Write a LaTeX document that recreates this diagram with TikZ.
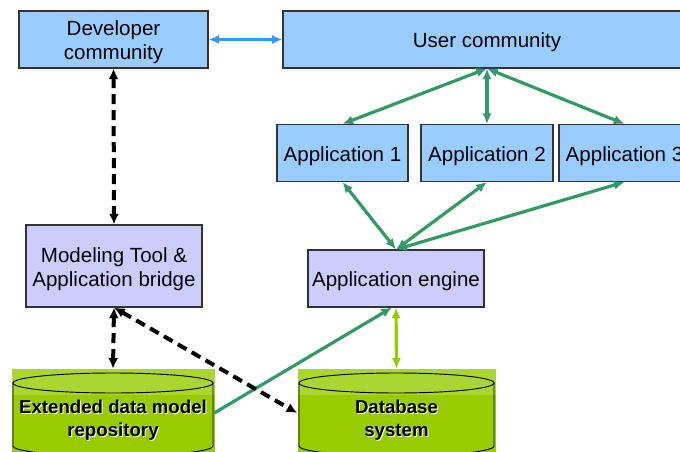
\documentclass[tikz,border=0pt]{standalone}
\usepackage{fontspec}
\setmainfont{Liberation Sans}
\usetikzlibrary{arrows.meta}

\definecolor{boxblue}{HTML}{99CCFF}
\definecolor{boxlav}{HTML}{CCCCFF}
\definecolor{boxedge}{HTML}{333333}
\definecolor{linkgreen}{HTML}{339966}
\definecolor{linkblue}{HTML}{3399FF}
\definecolor{dbgreen}{HTML}{99CC00}
\definecolor{dbband}{HTML}{AAD632}

% a strut that drops the first text line a little
\newcommand{\toppad}{\rule{0pt}{15.6pt}}

\tikzset{
  px/.style={x=0.75pt,y=-0.75pt},
  box/.style={draw=boxedge,line width=0.8pt,inner sep=0pt,align=center,
    font=\fontsize{15.4}{18.2}\selectfont},
  userbox/.style={box,fill=boxblue},
  corebox/.style={box,fill=boxlav},
  storebox/.style={inner sep=0pt},
  storetext/.style={align=center,font=\fontsize{14}{17.2}\selectfont\bfseries},
  greenlink/.style={draw=linkgreen,line width=2.4pt,{Latex[length=8pt,width=7pt]}-{Latex[length=8pt,width=7pt]}},
  greenone/.style={draw=linkgreen,line width=2.4pt,-{Latex[length=8pt,width=7pt]}},
  bluelink/.style={draw=linkblue,line width=2.4pt,{Latex[length=8pt,width=7pt]}-{Latex[length=8pt,width=7pt]}},
  limelink/.style={draw=dbgreen,line width=2.4pt,{Latex[length=8pt,width=7pt]}-{Latex[length=8pt,width=7pt]}},
  dashlink/.style={draw=black,line width=3pt,dash pattern=on 7.5pt off 4.5pt,
    {Latex[length=8pt,width=7.5pt]}-{Latex[length=8pt,width=7.5pt]}},
}

% cylinder-shaped store: #1 left x, #2 right x, #3 centre x
\newcommand{\storeshape}[3]{%
  \fill[dbgreen] (#1,369) rectangle (#2+1,460);
  \fill[dbband] (#1,369) rectangle (#2+1,395);
  \draw[black,line width=0.7pt,fill=dbband] (#3,383) ellipse [x radius={(#2-#1-2)*0.375pt},y radius=7.5pt];
  \draw[black,line width=0.7pt] (#1+1,383) -- (#1+1,446)
     arc[start angle=180,end angle=360,x radius={(#2-#1-2)*0.375pt},y radius=7.5pt]
     -- (#2-1,383);
}

\begin{document}
\begin{tikzpicture}[px]
\useasboundingbox (0,0) rectangle (680,452);
\clip (0,0) rectangle (680,452);
\fill[white] (0,0) rectangle (680,452);

% database shapes
\storeshape{12}{214}{113}
\storeshape{298}{495}{396.5}

% boxes
\node[userbox,minimum width=141.75pt,minimum height=42.75pt] (dev) at (113.5,39.5) {\toppad Developer\\community};
\node[userbox,minimum width=306pt,minimum height=42.75pt] (user) at (487,39.5) {\toppad User community};
\node[userbox,minimum width=98.25pt,minimum height=42.75pt] (app1) at (342.5,153) {\toppad Application 1};
\node[userbox,minimum width=99pt,minimum height=42.75pt] (app2) at (487,153) {\toppad Application 2};
\node[userbox,minimum width=98.25pt,minimum height=42.75pt] (app3) at (624.5,153) {\toppad Application 3};
\node[corebox,minimum width=132pt,minimum height=42.75pt] (engine) at (396,278.5) {\toppad Application engine};
\node[corebox,minimum width=132pt,minimum height=61.5pt] (tool) at (114,266) {\toppad Modeling Tool \&\\Application bridge};

% stores (outline regions for connectors)
\node[storebox,minimum width=151.5pt,minimum height=66pt] (repo) at (113,413) {};
\node[storebox,minimum width=148.5pt,minimum height=66pt] (db) at (396.5,413) {};

% store labels with a light shadow
\node[storetext,text=white] at (114,420.8) {Extended data model\\repository};
\node[storetext] (repolabel) at (113,420) {Extended data model\\repository};
\node[storetext,text=white] at (397.5,420.8) {Database\\system};
\node[storetext] (dblabel) at (396.5,420) {Database\\system};

% connectors
\draw[bluelink] (dev.east) -- (user.west);
\draw[greenlink] (user.south) -- (app1.north);
\draw[greenlink] (user.south) -- (app2.north);
\draw[greenlink] (user.south) -- (app3.north);
\draw[greenlink] (engine.north) -- (app1.south);
\draw[greenlink] (engine.north) -- (app2.south);
\draw[greenlink] (engine.north) -- (app3.south);
\draw[greenone] (repo.east) -- ([xshift=-3pt]engine.south);
\draw[limelink] (engine.south) -- (db.north);
\draw[dashlink] (dev.south) -- (tool.north);
\draw[dashlink] (tool.south) -- (repo.north);
\draw[dashlink] (tool.south) -- (db.west);
\end{tikzpicture}
\end{document}
